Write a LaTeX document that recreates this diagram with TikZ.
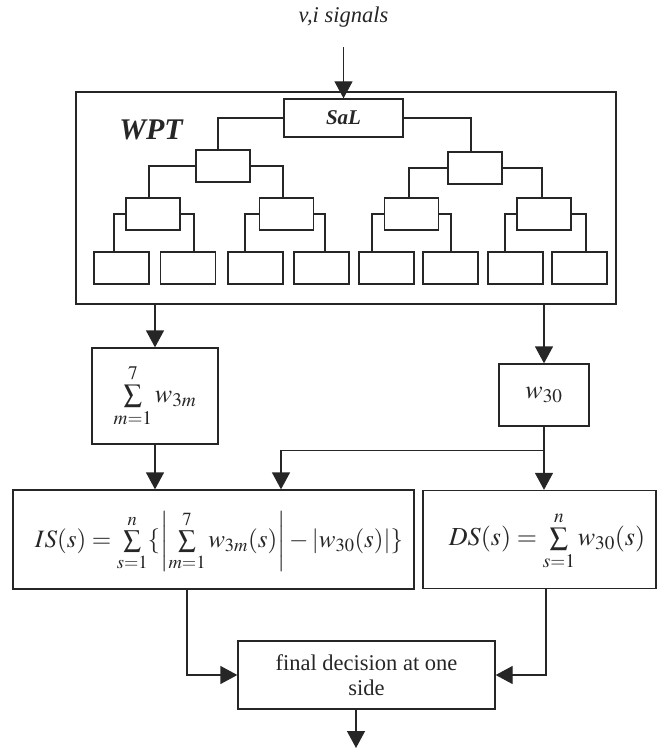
\documentclass[tikz,border=0pt]{standalone}
\usepackage{mathptmx}
\usepackage{fontspec}
\setmainfont{Liberation Serif}
\usetikzlibrary{arrows.meta}
\begin{document}
\begin{tikzpicture}[x=1pt,y=-1pt,
  line width=1.3pt, color=black!85,
  box/.style={draw, rectangle, inner sep=0pt},
  tbox/.style={box, minimum width=54, minimum height=32},
  leaf/.style={box, minimum width=55, minimum height=32},
  arr/.style={-{Triangle[width=18pt,length=17pt]}},
  mfont/.style={font=\fontsize{26}{30}\selectfont}]
\useasboundingbox (0,0) rectangle (658,751);

% input and wavelet packet tree
\node[font=\fontsize{22.5}{26}\selectfont\itshape] (sig) at (343.5,17) {v,i signals};
\node[box, minimum width=540, minimum height=212] (wpt) at (346,198) {};
\node[font=\fontsize{30}{34}\selectfont\bfseries\itshape] (wptlab) at (151,130) {WPT};
\node[box, minimum width=119, minimum height=38,
      font=\fontsize{21}{24}\selectfont\bfseries\itshape] (sal) at (343.5,118) {SaL};

\node[tbox] (l1a) at (223,166) {};
\node[tbox] (l1b) at (475,168) {};
\node[tbox] (l2a) at (153,214) {};
\node[tbox] (l2b) at (286.5,214) {};
\node[tbox] (l2c) at (411.5,214) {};
\node[tbox] (l2d) at (544,214) {};
\foreach \i/\cx in {0/121.5,1/188,2/255.5,3/321.5,4/386.5,5/450.5,6/515.5,7/579.5}
  \node[leaf] (lf\i) at (\cx,268) {};

\draw[arr, shorten <=16pt] (sig.south) -- (sal.north);
\draw (sal.west) -| ([xshift=-5pt]l1a.north);
\draw (sal.east) -| ([xshift=-4pt]l1b.north);
\draw (l1a.west) -| ([xshift=-4pt]l2a.north);
\draw (l1a.east) -| ([xshift=-3.5pt]l2b.north);
\draw (l1b.west) -| ([xshift=-2.5pt]l2c.north);
\draw (l1b.east) -| ([xshift=-2pt]l2d.north);
\draw (l2a.west) -| ([xshift=-7.5pt]lf0.north);
\draw (l2a.east) -| ([xshift=6pt]lf1.north);
\draw (l2b.west) -| ([xshift=-10.5pt]lf2.north);
\draw (l2b.east) -| ([xshift=3.5pt]lf3.north);
\draw (l2c.west) -| ([xshift=-14.5pt]lf4.north);
\draw (l2c.east) -| ([xshift=0.5pt]lf5.north);
\draw (l2d.west) -| ([xshift=-10.5pt]lf6.north);
\draw (l2d.east) -| ([xshift=6.5pt]lf7.north);

% coefficient sums
\node[box, minimum width=126, minimum height=96, mfont] (sumb) at (155,396)
  {$\sum\limits_{m=1}^{7} w_{3m}$};
\node[box, minimum width=90, minimum height=62, mfont] (w30) at (544,395)
  {$w_{30}$};
\draw[arr] (wpt.south -| sumb.north) -- (sumb.north);
\draw[arr] (wpt.south -| w30.north) -- (w30.north);

% indices
\node[box, minimum width=401, minimum height=99] (is) at (213.5,539.5) {};
\node[font=\fontsize{25}{29}\selectfont] (isf) at (219,541)
  {$IS(s)=\sum\limits_{s=1}^{n}\{\left|\sum\limits_{m=1}^{7} w_{3m}(s)\right|-\left|w_{30}(s)\right|\}$};
\node[box, minimum width=233, minimum height=98] (ds) at (539.5,539.5) {};
\node[mfont] (dsf) at (547,541) {$DS(s)=\sum\limits_{s=1}^{n} w_{30}(s)$};

\draw[arr] (sumb.south) -- (sumb.south |- is.north);
\path (w30.south) ++(0,24) coordinate (j);
\draw[arr] (w30.south) -- (w30.south |- ds.north);
\draw[arr] (j) -| ([xshift=67.5pt]is.north);

% decision
\node[box, minimum width=257, minimum height=68, align=center,
      font=\fontsize{22.5}{25}\selectfont] (final) at (366.5,675)
  {final decision at one\\side};
\draw[arr] ([xshift=-26.5pt]is.south) |- (final.west);
\draw[arr] ([xshift=6.5pt]ds.south) |- (final.east);
\coordinate (out) at (356,748);
\draw[arr] (final.south -| out) -- (out);
\end{tikzpicture}
\end{document}
